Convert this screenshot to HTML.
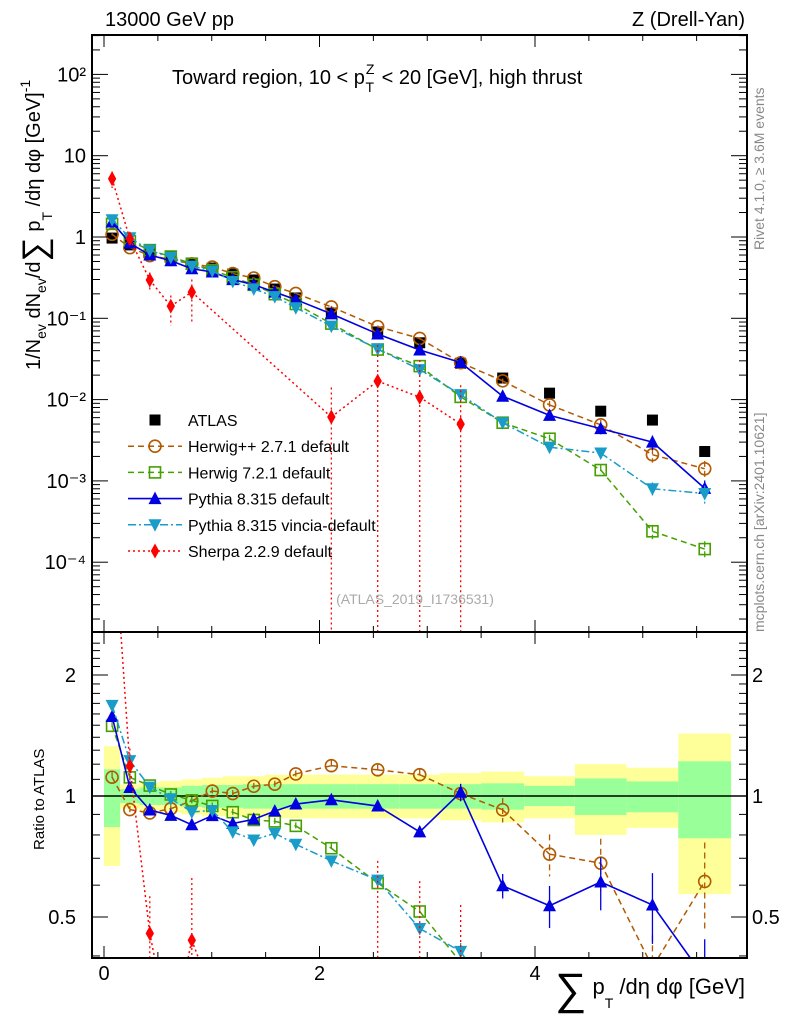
<!DOCTYPE html>
<html><head><meta charset="utf-8">
<style>
html,body{margin:0;padding:0;background:#fff;width:786px;height:1024px;overflow:hidden;}
svg{display:block;font-family:"Liberation Sans",Arial,sans-serif;}
</style></head>
<body>
<svg id="chart" width="786" height="1024" viewBox="0 0 786 1024" xmlns="http://www.w3.org/2000/svg">
<g id="bands"></g>
<g id="marks"></g>
<g id="axes"></g>
<text x="105" y="26" font-size="20">13000 GeV pp</text>
<text x="745" y="26" font-size="20" text-anchor="end">Z (Drell-Yan)</text>
<text x="172" y="84" font-size="20">Toward region, 10 &lt; p<tspan font-size="14" dx="1" dy="-10">Z</tspan><tspan font-size="14" dx="-9" dy="18">T</tspan><tspan dy="-8" dx="2"> &lt; 20 [GeV], high thrust</tspan></text>
<text transform="translate(764,250) rotate(-90)" font-size="14" fill="#888">Rivet 4.1.0, ≥ 3.6M events</text>
<text transform="translate(764,632) rotate(-90)" font-size="14" fill="#888">mcplots.cern.ch [arXiv:2401.10621]</text>
<text x="415" y="604" font-size="14" fill="#aaa" text-anchor="middle">(ATLAS_2019_I1736531)</text>
<text transform="translate(40,370) rotate(-90)" font-size="20">1/N<tspan font-size="14" dy="6">ev</tspan><tspan dy="-6"> dN</tspan><tspan font-size="14" dy="6">ev</tspan><tspan dy="-6">/d</tspan><tspan font-size="34" dy="6">∑</tspan><tspan dy="-6"> p</tspan><tspan font-size="14" dy="12">T</tspan><tspan dy="-12"> /dη dφ  [GeV]</tspan><tspan font-size="14" dy="-10">-1</tspan></text>
<text transform="translate(44,850) rotate(-90)" font-size="15">Ratio to ATLAS</text>
<text x="745" y="994" font-size="22" text-anchor="end"><tspan font-size="44" dy="10">∑</tspan><tspan dy="-10"> p</tspan><tspan font-size="14" dy="14">T</tspan><tspan dy="-14"> /dη dφ [GeV]</tspan></text>
<g id="legend"></g>
</svg>
<script>
// ---------------- data ----------------
const binEdges = [0,0.15,0.33,0.52,0.72,0.91,1.1,1.29,1.49,1.68,1.88,2.34,2.74,3.12,3.5,3.9,4.37,4.85,5.33,5.82];
const atlas    = [0.97,0.80,0.65,0.57,0.48,0.415,0.35,0.296,0.229,0.178,0.116,0.068,0.050,0.028,0.0184,0.012,0.0072,0.0056,0.0023];
const herwigPP = [1.08,0.74,0.59,0.53,0.467,0.427,0.355,0.313,0.245,0.202,0.138,0.079,0.0565,0.0284,0.0170,0.0086,0.0049,0.0021,0.00141];
const herwig7  = [1.45,0.89,0.69,0.575,0.468,0.392,0.319,0.258,0.198,0.150,0.086,0.0413,0.0258,0.0108,0.0052,0.0033,0.00136,0.00024,0.000145];
const pythia   = [1.53,0.84,0.60,0.51,0.407,0.371,0.299,0.259,0.210,0.170,0.1135,0.0642,0.0407,0.0286,0.0110,0.0064,0.0044,0.0030,0.00081];
const vincia   = [1.63,0.98,0.684,0.561,0.438,0.382,0.285,0.230,0.185,0.135,0.080,0.042,0.0234,0.0115,0.0052,0.0026,0.0022,0.00080,0.00070];
const sherpa   = [5.2,0.95,0.296,0.141,0.21,null,null,null,null,null,0.0061,0.0169,0.0107,0.0050,null,null,null,null,null];
const sherpaErrUp = [1.2,0.1,0.07,0.05,0.09,null,null,null,null,null,0.008,0.03,0.02,0.01,null,null,null,null,null];
const sherpaErrDn = [1.2,0.1,0.07,0.06,0.12,null,null,null,null,null,0.0061,0.0169,0.0107,0.0050,null,null,null,null,null];
const mcRelErr = [0.03,0.02,0.02,0.02,0.02,0.02,0.02,0.02,0.02,0.02,0.03,0.03,0.03,0.05,0.07,0.12,0.15,0.2,0.25];
const greenUp  = [0.165,0.04,0.05,0.05,0.06,0.065,0.065,0.07,0.07,0.07,0.07,0.07,0.07,0.07,0.075,0.06,0.106,0.087,0.22];
const greenDn  = [0.163,0.04,0.05,0.05,0.06,0.065,0.065,0.07,0.07,0.07,0.07,0.07,0.07,0.07,0.075,0.056,0.103,0.089,0.215];
const yellowUp = [0.33,0.07,0.08,0.09,0.10,0.11,0.12,0.12,0.13,0.13,0.13,0.13,0.13,0.14,0.15,0.12,0.20,0.176,0.43];
const yellowDn = [0.33,0.07,0.08,0.09,0.10,0.11,0.11,0.11,0.12,0.12,0.12,0.12,0.12,0.13,0.14,0.12,0.20,0.167,0.43];
const xTickLabels = ["0","2","4"];
const yDecadeLabels = ["10\u207B\u2074","10\u207B\u00B3","10\u207B\u00B2","10\u207B\u00B9","1","10","10\u00B2"];
const ratioTickLabels = ["0.5","1","2"];

// ---------------- axes ----------------
const L=92,R=747,T=35,MB=632,RB=958;
const X = v => 104 + v*107.75;
const Y = v => 237 - 81.3*Math.log10(v);
const RY = v => 796 - 121*Math.log2(v);
const clampY = (y,lo,hi) => Math.max(lo, Math.min(hi, y));
const NS="http://www.w3.org/2000/svg";
function mk(tag,attrs,parent){const e=document.createElementNS(NS,tag);for(const k in attrs)e.setAttribute(k,attrs[k]);parent.appendChild(e);return e;}
const axes=document.getElementById('axes'), marks=document.getElementById('marks'), bands=document.getElementById('bands');

let f1=mk('rect',{x:L,y:T,width:R-L,height:MB-T,fill:'none',stroke:'#000','stroke-width':2},axes);


let f2=mk('rect',{x:L,y:MB,width:R-L,height:RB-MB,fill:'none',stroke:'#000','stroke-width':2},axes);



for(let v=0;v<=6.01;v+=0.5){
  const x=X(v); if(x>R) break;
  const major=Math.abs(v%2)<1e-6, len=major?12:6;
  [[T,T+len],[MB,MB-len],[MB,MB+len],[RB,RB-len]].forEach(p=>mk('line',{x1:x,x2:x,y1:p[0],y2:p[1],stroke:'#000','stroke-width':1},axes));
}
xTickLabels.forEach((t,i)=>{const tx=mk('text',{x:X(i*2),y:980,'font-size':20,'text-anchor':'middle'},axes);tx.textContent=t;
  
  });

for(let d=-5;d<=2;d++){
  for(let m=1;m<10;m++){
    const v=m*Math.pow(10,d), y=Y(v); if(y<T||y>MB) continue;
    const len=m===1?16:8;
    mk('line',{x1:L,x2:L+len,y1:y,y2:y,stroke:'#000','stroke-width':1},axes);
    mk('line',{x1:R,x2:R-len,y1:y,y2:y,stroke:'#000','stroke-width':1},axes);
  }
}
yDecadeLabels.forEach((t,i)=>{const d=i-4;const tx=mk('text',{x:86,y:Y(Math.pow(10,d))+7,'font-size':20,'text-anchor':'end'},axes);tx.textContent=t;
  
  });

for(let v=0.4;v<=2.5;v+=0.1){
  const vv=Math.round(v*10)/10, y=RY(vv); if(y<MB||y>RB) continue;
  const major=(vv===0.5||vv===1||vv===2), len=major?16:8;
  mk('line',{x1:L,x2:L+len,y1:y,y2:y,stroke:'#000','stroke-width':1},axes);
  mk('line',{x1:R,x2:R-len,y1:y,y2:y,stroke:'#000','stroke-width':1},axes);
}
ratioTickLabels.forEach((t,i)=>{const v=[0.5,1,2][i];
  let a=mk('text',{x:76,y:RY(v)+7,'font-size':20,'text-anchor':'end'},axes);a.textContent=t;
  
  
  let b=mk('text',{x:752,y:RY(v)+7,'font-size':20},axes);b.textContent=t;
  
  });

const clipR=mk('clipPath',{id:'clipR'},document.getElementById('chart'));
mk('rect',{x:L,y:MB,width:R-L,height:RB-MB},clipR);
const clipM=mk('clipPath',{id:'clipM'},document.getElementById('chart'));
mk('rect',{x:L,y:T,width:R-L,height:MB-T},clipM);
bands.setAttribute('clip-path','url(#clipR)');
for(let i=0;i<atlas.length;i++){
  const x0=X(binEdges[i]),x1=X(binEdges[i+1]);
  const yt=clampY(RY(1+yellowUp[i]),MB,RB), yb=clampY(RY(1-yellowDn[i]),MB,RB);
  let y=mk('rect',{x:x0,width:x1-x0,y:yt,height:yb-yt,fill:'#ffff99'},bands);
  
  
  const gt=clampY(RY(1+greenUp[i]),MB,RB), gb=clampY(RY(1-greenDn[i]),MB,RB);
  let g=mk('rect',{x:x0,width:x1-x0,y:gt,height:gb-gt,fill:'#99ff99'},bands);
  
  
}
let one=mk('line',{x1:L,x2:R,y1:RY(1),y2:RY(1),stroke:'#000','stroke-width':1.5},bands);



function marker(type,x,y,color,parent){
  const s=5.5;
  if(type==='sq') return mk('rect',{x:x-s,y:y-s,width:2*s,height:2*s,fill:color},parent);
  if(type==='osq') return mk('rect',{x:x-s,y:y-s,width:2*s,height:2*s,fill:'none',stroke:color,'stroke-width':1.6},parent);
  if(type==='oc') return mk('circle',{cx:x,cy:y,r:6,fill:'none',stroke:color,'stroke-width':1.6},parent);
  if(type==='tu') return mk('polygon',{points:`${x},${y-7} ${x-6.5},${y+5.5} ${x+6.5},${y+5.5}`,fill:color},parent);
  if(type==='td') return mk('polygon',{points:`${x},${y+7} ${x-6.5},${y-5.5} ${x+6.5},${y-5.5}`,fill:color},parent);
  if(type==='di') return mk('polygon',{points:`${x},${y-7.5} ${x-4.2},${y} ${x},${y+7.5} ${x+4.2},${y}`,fill:color},parent);
}
// clip a segment to y range [lo,hi]; returns null if fully outside
function clipSeg(x1,y1,x2,y2,lo,hi){
  let t0=0,t1=1; const dy=y2-y1;
  if(Math.abs(dy)<1e-9){ if(y1<lo||y1>hi) return null; return [x1,y1,x2,y2]; }
  let ta=(lo-y1)/dy, tb=(hi-y1)/dy; if(ta>tb){const t=ta;ta=tb;tb=t;}
  t0=Math.max(t0,ta); t1=Math.min(t1,tb); if(t0>t1) return null;
  return [x1+(x2-x1)*t0, y1+dy*t0, x1+(x2-x1)*t1, y1+dy*t1];
}
const centers = atlas.map((_,i)=>(binEdges[i]+binEdges[i+1])/2);
const series=[
  {name:'herwigpp',vals:herwigPP,color:'#b35900',type:'oc',dash:'6,4',w:1.5,label:'Herwig++ 2.7.1 default'},
  {name:'herwig7',vals:herwig7,color:'#44a000',type:'osq',dash:'6,4',w:1.5,label:'Herwig 7.2.1 default'},
  {name:'pythia',vals:pythia,color:'#0000e0',type:'tu',dash:'',w:1.6,label:'Pythia 8.315 default'},
  {name:'vincia',vals:vincia,color:'#1a9cc8',type:'td',dash:'8,3,2,3',w:1.5,label:'Pythia 8.315 vincia-default'},
  {name:'sherpa',vals:sherpa,color:'#ff0000',type:'di',dash:'2,3',w:1.5,label:'Sherpa 2.2.9 default'}
];
const gMain=mk('g',{'clip-path':'url(#clipM)'},marks);


const gRatio=mk('g',{'clip-path':'url(#clipR)'},marks);



atlas.forEach((v,i)=>{
  let m=marker('sq',X(centers[i]),Y(v),'#000',gMain);
  
  
});

function drawSegments(pts,g,lo,hi,s,nm){
  for(let k=0;k<pts.length-1;k++){
    const c=clipSeg(pts[k][0],pts[k][1],pts[k+1][0],pts[k+1][1],lo,hi);
    if(!c) continue;
    const ln=mk('line',{x1:c[0],y1:c[1],x2:c[2],y2:c[3],stroke:s.color,'stroke-width':s.w,'stroke-dasharray':s.dash},g);
    
    
  }
}

series.forEach(s=>{
  const ptsM=[],ptsR=[];
  s.vals.forEach((v,i)=>{ if(v==null) return;
    ptsM.push([X(centers[i]),Y(v)]); ptsR.push([X(centers[i]),RY(v/atlas[i])]); });
  drawSegments(ptsM,gMain,T,MB,s,s.name+'-line');
  drawSegments(ptsR,gRatio,MB,RB,s,s.name+'-ratio-line');
  s.vals.forEach((v,i)=>{ if(v==null) return;
    const x=X(centers[i]);
    let up,dn;
    if(s.name==='sherpa'){up=v+sherpaErrUp[i]; dn=Math.max(v-sherpaErrDn[i],1e-9);}
    else {up=v*(1+mcRelErr[i]); dn=v*(1-mcRelErr[i]);}
    [[gMain,Y,T,MB],[gRatio,u=>RY(u/atlas[i]),MB,RB]].forEach(([g,f,lo,hi])=>{
      const a=clampY(f(up),lo,hi), b=clampY(f(dn),lo,hi);
      if(b-a<0.5) return;
      let e=mk('line',{x1:x,x2:x,y1:a,y2:b,stroke:s.color,'stroke-width':1.3,'stroke-dasharray':s.dash},g);
      
      
    });
    const ym=Y(v);
    if(ym>T && ym<MB){
      let m1=marker(s.type,x,ym,s.color,gMain);
      
      
    }
    const yr=RY(v/atlas[i]);
    if(yr>MB && yr<RB){
      let m2=marker(s.type,x,yr,s.color,gRatio);
      
      
    }
  });
});

const leg=document.getElementById('legend');
const entries=[{label:'ATLAS',type:'sq',color:'#000',dash:null}].concat(series);
entries.forEach((s,i)=>{
  const y=420+i*26.2;
  const g=mk('g',{},leg);
  
  
  if(s.dash!==null) mk('line',{x1:128,x2:182,y1:y,y2:y,stroke:s.color,'stroke-width':s.w,'stroke-dasharray':s.dash},g);
  marker(s.type,155,y,s.color,g);
  const t=mk('text',{x:188,y:y+6,'font-size':16},g); t.textContent=s.label;
});
</script>
</body></html>
